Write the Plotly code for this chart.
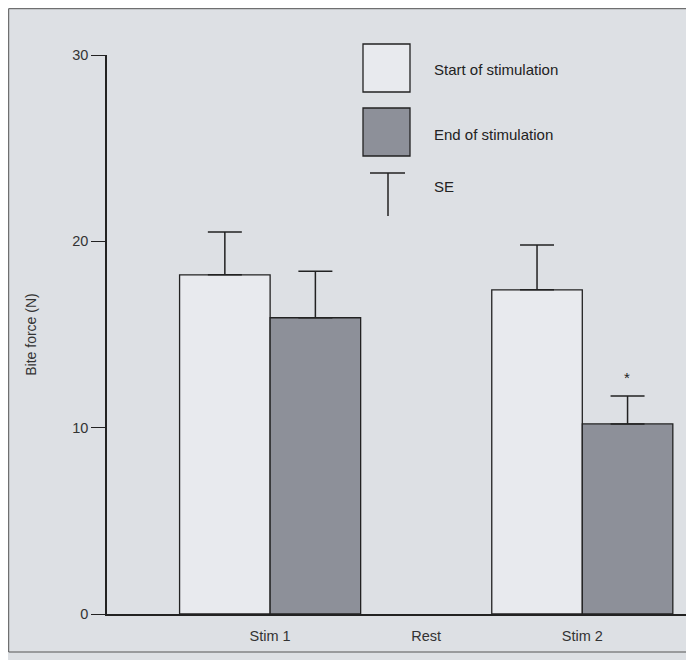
import plotly.graph_objects as go

categories = ["Stim 1", "Rest", "Stim 2"]
start_vals = [18.2, None, 17.4]
start_se = [2.3, 0, 2.4]
end_vals = [15.9, None, 10.2]
end_se = [2.5, 0, 1.5]
y_ticks = [0, 10, 20, 30]

OFF = 8  # page body margin offset
W, H = 694 - OFF, 660 - OFF
L, R, T, B = 107 - OFF, 690 - OFF, 55 - OFF, 614 - OFF

WHITE_FILL = "#e8eaee"
GREY_FILL = "#8d9099"
BG = "#dde0e4"


def px(x):
    return (x - OFF - L) / (R - L)


def py(y):
    return (B - (y - OFF)) / (B - T)


fig = go.Figure()
fig.add_trace(go.Bar(
    x=categories, y=start_vals, width=0.58, offset=-0.58,
    marker=dict(color=WHITE_FILL, line=dict(color="#222222", width=1.3)),
    error_y=dict(type="data", array=start_se, arrayminus=[0, 0, 0], symmetric=False,
                 color="#222222", thickness=1.5, width=17),
    name="Start of stimulation", showlegend=False,
))
fig.add_trace(go.Bar(
    x=categories, y=end_vals, width=0.58, offset=0,
    marker=dict(color=GREY_FILL, line=dict(color="#222222", width=1.3)),
    error_y=dict(type="data", array=end_se, arrayminus=[0, 0, 0], symmetric=False,
                 color="#222222", thickness=1.5, width=17),
    name="End of stimulation", showlegend=False,
))

shapes = [
    # outer frame
    dict(type="rect", xref="paper", yref="paper",
         x0=(0.7 - L) / (R - L), x1=px(692), y0=py(652), y1=(B - 0.7) / (B - T),
         line=dict(color="#555555", width=1), fillcolor="rgba(0,0,0,0)", layer="below"),
    # legend boxes
    dict(type="rect", xref="paper", yref="paper", x0=px(363), x1=px(410), y0=py(92), y1=py(44),
         line=dict(color="#222222", width=1.3), fillcolor=WHITE_FILL),
    dict(type="rect", xref="paper", yref="paper", x0=px(363), x1=px(410), y0=py(156), y1=py(108),
         line=dict(color="#222222", width=1.3), fillcolor=GREY_FILL),
    dict(type="line", xref="paper", yref="paper", x0=px(370), x1=px(405), y0=py(173), y1=py(173),
         line=dict(color="#222222", width=1.5)),
    dict(type="line", xref="paper", yref="paper", x0=px(388), x1=px(388), y0=py(173), y1=py(216),
         line=dict(color="#222222", width=1.5)),
]

annotations = [
    dict(xref="paper", yref="paper", x=px(432), y=py(70), text="Start of stimulation",
         showarrow=False, xanchor="left", yanchor="middle", font=dict(size=15, color="#222222")),
    dict(xref="paper", yref="paper", x=px(432), y=py(134), text="End of stimulation",
         showarrow=False, xanchor="left", yanchor="middle", font=dict(size=15, color="#222222")),
    dict(xref="paper", yref="paper", x=px(432), y=py(186), text="SE",
         showarrow=False, xanchor="left", yanchor="middle", font=dict(size=15, color="#222222")),
    dict(x="Stim 2", y=12.7, xshift=45, text="*", showarrow=False, xanchor="center",
         yanchor="middle", font=dict(size=15, color="#222222")),
]

fig.update_layout(
    width=W, height=H,
    margin=dict(l=L, r=W - R, t=T, b=H - B, pad=0),
    paper_bgcolor=BG, plot_bgcolor=BG,
    font=dict(family="Liberation Sans, Arial, sans-serif", size=14, color="#333333"),
    barmode="overlay",
    shapes=shapes, annotations=annotations,
    xaxis=dict(type="category", range=[-1.045, 2.69], showgrid=False, zeroline=False,
               showline=True, linecolor="#222222", linewidth=1.5,
               ticks="outside", ticklen=8, tickcolor="rgba(0,0,0,0)",
               tickfont=dict(size=14.5, color="#333333")),
    yaxis=dict(range=[0, 30], tickvals=y_ticks, showgrid=False, zeroline=False,
               showline=True, linecolor="#222222", linewidth=1.5, ticks="outside",
               ticklen=14, tickwidth=1.3, tickcolor="#222222",
               tickfont=dict(size=14.5, color="#333333"),
               title=dict(text="Bite force (N)", standoff=32, font=dict(size=14, color="#333333"))),
)

fig.write_html("out.html")
